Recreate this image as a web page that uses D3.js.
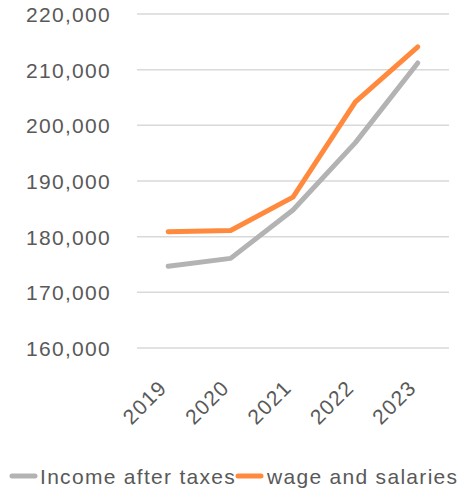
<!DOCTYPE html>
<html><head><meta charset="utf-8">
<script src="https://cdn.jsdelivr.net/npm/d3@7"></script>
<style>body{margin:0;background:#fff}svg{display:block;font-family:"Liberation Sans",Arial,sans-serif}</style>
</head><body><svg id="c" width="463" height="490"></svg>
<script>
const years = ["2019","2020","2021","2022","2023"];
const incomeAfterTaxes = [174700, 176100, 184800, 196900, 211200];
const wageAndSalaries = [180900, 181100, 187100, 204200, 214100];
const yTicks = [160000,170000,180000,190000,200000,210000,220000];
const seriesNames = ["Income after taxes","wage and salaries"];
const colors = ["#b3b3b3","#ff8a3d"];

const svg = d3.select("#c");
const x = d3.scalePoint().domain(years).range([137,449]).padding(0.5);
const y = d3.scaleLinear().domain([160000,220000]).range([348,14]);
const FS = "21px", LS = "1.3px", TXT = "#595959";

svg.append("g").selectAll("line").data(yTicks).join("line")
  .attr("x1",137).attr("x2",449).attr("y1",d=>y(d)).attr("y2",d=>y(d))
  .attr("stroke","#d9d9d9").attr("stroke-width",1.5);

const fmt = d3.format(",");
const yAxis = d3.axisLeft(y).tickValues(yTicks).tickFormat(fmt).tickSize(0).tickPadding(0);
const ga = svg.append("g").attr("transform","translate(111,0)").call(yAxis);
ga.select(".domain").remove();
ga.selectAll("text").attr("fill",TXT).style("font-size",FS).style("letter-spacing",LS)
  .style("font-family","'Liberation Sans',Arial,sans-serif").attr("dy","0.36em");

const xAxis = d3.axisBottom(x).tickSize(0).tickPadding(0);
const gx = svg.append("g").attr("transform","translate(0,0)").call(xAxis);
gx.select(".domain").remove();
gx.selectAll(".tick").attr("transform",d=>`translate(${x(d)},389)`);
gx.selectAll("text").attr("fill",TXT).style("font-size",FS).style("letter-spacing",LS)
  .style("font-family","'Liberation Sans',Arial,sans-serif")
  .attr("text-anchor","end").attr("dy","0").attr("dx","0").attr("y",0)
  .attr("transform","rotate(-45)");

const line = d3.line().x((d,i)=>x(years[i])).y(d=>y(d));
[incomeAfterTaxes, wageAndSalaries].forEach((s,k)=>{
  svg.append("path").datum(s).attr("d",line).attr("fill","none")
    .attr("stroke",colors[k]).attr("stroke-width",5).attr("stroke-linejoin","round").attr("stroke-linecap","round");
});

const lg = svg.append("g").attr("transform","translate(0,476)");
const legendPos = [{lx:12,tx:40},{lx:238,tx:267}];
seriesNames.forEach((n,k)=>{
  lg.append("line").attr("x1",legendPos[k].lx).attr("x2",legendPos[k].lx+23).attr("y1",0).attr("y2",0)
    .attr("stroke",colors[k]).attr("stroke-width",5).attr("stroke-linecap","round");
  lg.append("text").attr("x",legendPos[k].tx).attr("y",0).attr("dy","0.36em").attr("fill",TXT)
    .style("font-size",FS).style("letter-spacing",LS).text(n);
});
</script></body></html>
